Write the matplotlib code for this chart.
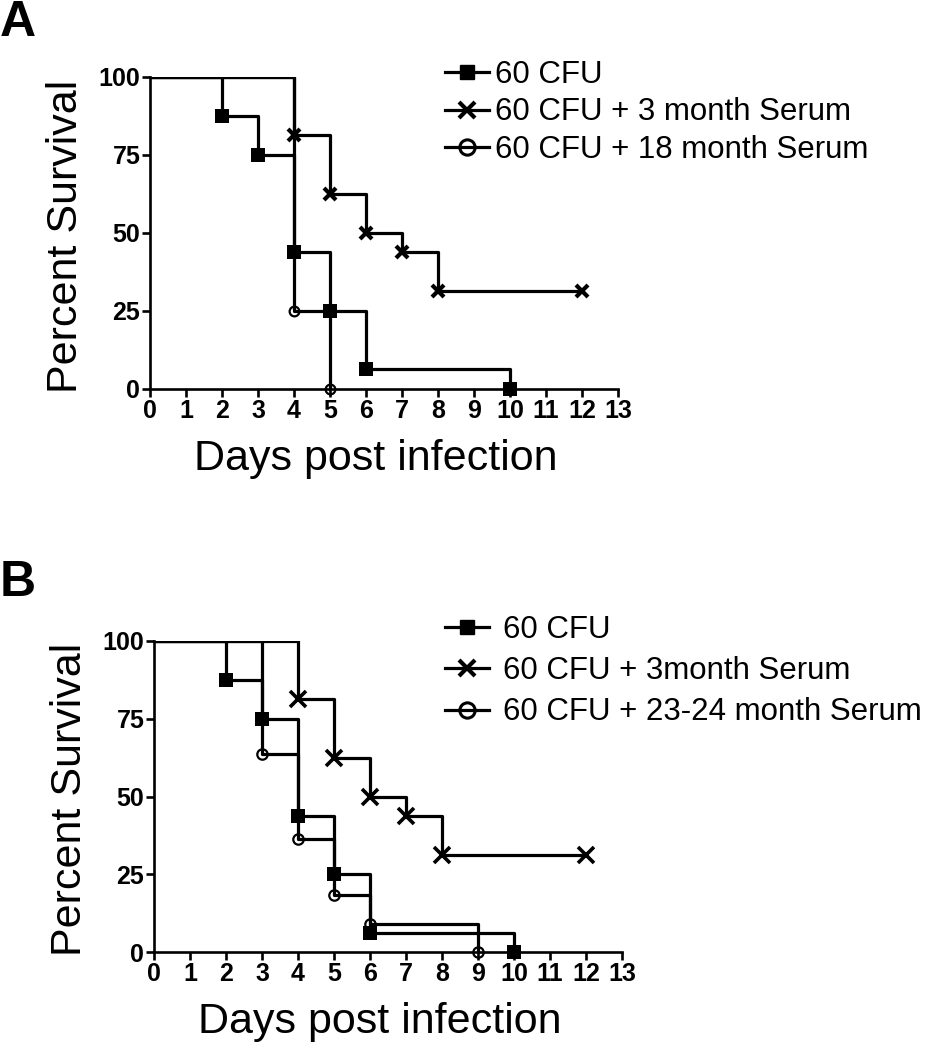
import matplotlib
matplotlib.use("Agg")
import matplotlib.pyplot as plt
from matplotlib.lines import Line2D

plt.rcParams["font.family"] = ["Liberation Sans", "DejaVu Sans"]

# survival data (days, percent)
cfu_days = [0, 2, 3, 4, 5, 6, 10]
cfu_surv = [100, 87.5, 75, 43.75, 25, 6.25, 0]

m3_days = [0, 4, 5, 6, 7, 8, 12]
m3_surv = [100, 81.25, 62.5, 50, 43.75, 31.25, 31.25]

m18_days = [0, 4, 5]
m18_surv = [100, 25, 0]

m24_days = [0, 3, 4, 5, 6, 9]
m24_surv = [100, 63.6, 36.4, 18.2, 9.1, 0]

labels_a = ["60 CFU", "60 CFU + 3 month Serum", "60 CFU + 18 month Serum"]
labels_b = ["60 CFU", "60 CFU + 3month Serum", "60 CFU + 23-24 month Serum"]

x_ticks = list(range(0, 14))
y_ticks = [0, 25, 50, 75, 100]

W, H = 937, 1050
fig = plt.figure(figsize=(W / 100, H / 100), dpi=100)

LW = 2.3


def px_axes(l, t, r, b):
    return fig.add_axes([l / W, 1 - b / H, (r - l) / W, (b - t) / H])


def style(ax):
    ax.set_xlim(0, 13)
    ax.set_ylim(0, 100)
    ax.set_xticks(x_ticks)
    ax.set_yticks(y_ticks)
    for s in ["top", "right"]:
        ax.spines[s].set_visible(False)
    for s in ["left", "bottom"]:
        ax.spines[s].set_linewidth(1.9)
    ax.tick_params(direction="out", length=6, width=1.9, labelsize=18, pad=1)
    for lab in ax.get_xticklabels() + ax.get_yticklabels():
        lab.set_fontweight("bold")
    ax.set_ylabel("Percent Survival", fontsize=31)
    ax.set_xlabel("Days post infection", fontsize=31)
    ax.yaxis.set_label_coords(-0.136, 0.49)
    ax.xaxis.set_label_coords(0.483, -0.16)


def curve(ax, days, surv, marker, ms, mew, mfc="black"):
    ax.step(days, surv, where="post", color="black", lw=LW)
    ax.plot(days[1:], surv[1:], ls="none", marker=marker, ms=ms, mew=mew,
            mfc=mfc, mec="black", clip_on=False, zorder=5)


def handles(xms, cms):
    return [
        Line2D([], [], color="black", lw=LW, marker="s", ms=10, mfc="black", mec="black"),
        Line2D([], [], color="black", lw=LW, marker="x", ms=xms, mew=3, mec="black"),
        Line2D([], [], color="black", lw=LW, marker="o", ms=cms, mew=2.2, mfc="none", mec="black"),
    ]


# panel A
ax1 = px_axes(150, 77, 618, 389)
curve(ax1, cfu_days, cfu_surv, "s", 10.5, 0)
curve(ax1, m3_days, m3_surv, "x", 8, 3)
curve(ax1, m18_days, m18_surv, "o", 7, 1.6, "none")
style(ax1)
ax1.legend(handles(11, 11), labels_a, loc="upper left", frameon=False,
           bbox_to_anchor=(445 / W, 1 - 60 / H), bbox_transform=fig.transFigure,
           fontsize=22.5, handlelength=1.4, handletextpad=0.2, labelspacing=0.24,
           borderpad=0, borderaxespad=0)

# panel B
ax2 = px_axes(154, 641, 622, 952)
curve(ax2, cfu_days, cfu_surv, "s", 10.5, 0)
curve(ax2, m3_days, m3_surv, "x", 11.5, 2.6)
curve(ax2, m24_days, m24_surv, "o", 7.5, 1.6, "none")
style(ax2)
ax2.legend(handles(11, 11), labels_b, loc="upper left", frameon=False,
           bbox_to_anchor=(445 / W, 1 - 615 / H), bbox_transform=fig.transFigure,
           fontsize=22.5, handlelength=1.4, handletextpad=0.45, labelspacing=0.36,
           borderpad=0, borderaxespad=0)

fig.text(0.0, 1.0, "A", fontsize=36, fontweight="bold", va="top", ha="left")
fig.text(0.0, 1 - 560 / H, "B", fontsize=36, fontweight="bold", va="top", ha="left")

fig.savefig("out.png", dpi=100)
